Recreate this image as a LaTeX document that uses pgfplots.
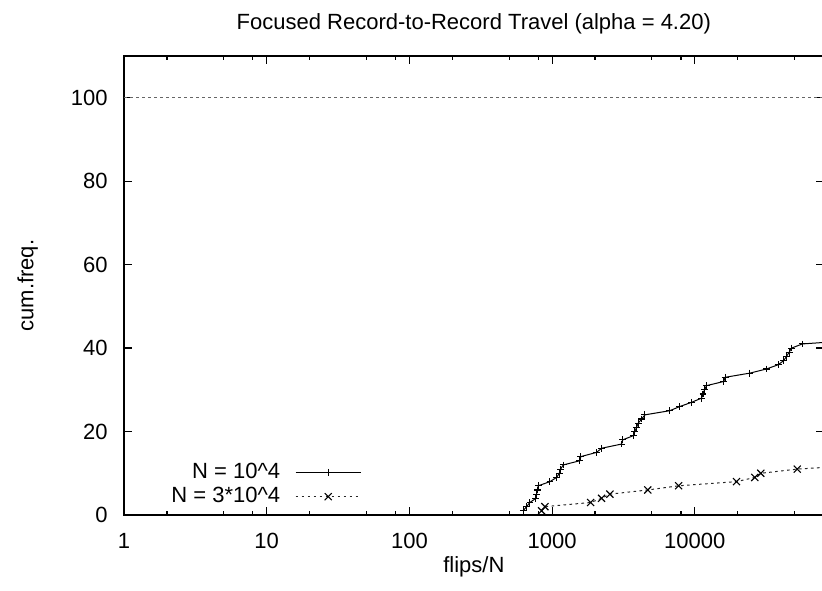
\documentclass[border=0pt]{standalone}
\usepackage{fontspec}
\setmainfont{Liberation Sans}
\usepackage{pgfplots}
\usepackage{pgfplotstable}
\pgfplotsset{compat=1.18}
\pgfplotstableread{
x y
627 1
662 2
699 3
769 4
778 5
787 6
800 7
965 8
1075 9
1122 10
1147 11
1196 12
1564 13
1590 14
2048 15
2220 16
3064 17
3120 18
3700 19
3800 20
3906 21
4010 22
4240 23
4466 24
6680 25
7850 26
9480 27
11140 28
11400 29
11700 30
12080 31
15950 32
16300 33
24270 34
31770 35
38350 36
42000 37
43850 38
45800 39
47530 40
56800 41
150000 42
}\tablesmall
\pgfplotstableread{
x y
844 1
890 2
1860 3
2220 4
2540 5
4680 6
7700 7
19600 8
26300 9
28970 10
52200 11
150000 12
}\tablelarge
\begin{document}
\begin{tikzpicture}[font=\fontsize{11pt}{13pt}\selectfont]
\begin{axis}[
  name=ax,
  scale only axis,
  width=349.85pt, height=229.5pt,
  xmode=log, xmin=1, xmax=80000, ymin=0, ymax=110,
  axis line style={line width=0.65pt},
  tick style={black, line width=0.6pt},
  major tick length=3.9pt, minor tick length=1.9pt,
  tick align=inside,
  xtick={1,10,100,1000,10000},
  xticklabels={1,10,100,1000,10000},
  minor xtick={2,5,8,20,50,80,200,500,800,2000,5000,8000,20000,50000},
  ytick={0,20,40,60,80,100},
  minor ytick={},
  /pgf/number format/assume math mode=true,
  xticklabel style={anchor=base, inner sep=0pt, yshift=-16.5pt},
  yticklabel style={anchor=east, inner sep=0pt, xshift=-8pt},
  title={Focused Record-to-Record Travel (alpha = 4.20)},
  title style={at={(axis description cs:0.5,1.031)}, anchor=base, inner sep=0pt},
  xlabel={flips/N},
  xlabel style={at={(axis description cs:0.5,-0.1242)}, anchor=base, inner sep=0pt},
  ylabel={cum.freq.},
  ylabel style={at={(axis description cs:-0.1294,0.5)}, anchor=base, inner sep=0pt},
  legend plot pos=right,
  legend cell align=right,
  legend style={draw=none, fill=none, at={(axis description cs:0.3396,0.0665)}, anchor=east,
    inner sep=0pt, nodes={inner xsep=0pt, inner ysep=1.1pt, text height=8pt, text depth=2pt},
    /tikz/column sep=7.5pt},
  legend image code/.code={\draw[mark repeat=2,mark phase=2,#1] plot coordinates {(0pt,0pt)(16.25pt,0pt)(32.5pt,0pt)};},
]
\addplot[black, line width=0.5pt, mark=+, mark size=1.7pt, mark options={solid, line width=0.55pt}] table[x=x,y=y] {\tablesmall};
\addlegendentry{N = 10\textasciicircum 4}
\addplot[black!85, line width=0.5pt, dash pattern=on 1.3pt off 1.7pt, mark=x, mark size=2.5pt, mark options={solid, black, line width=0.55pt}] table[x=x,y=y] {\tablelarge};
\addlegendentry{N = 3*10\textasciicircum 4}
\addplot[black!60, line width=0.5pt, dash pattern=on 1.3pt off 1.7pt, forget plot] coordinates {(1,100) (80000,100)};
\end{axis}
\pgfresetboundingbox
\path[use as bounding box] (ax.south west) ++(-62pt,-37.5pt) rectangle ++(411pt,295pt);
\end{tikzpicture}
\end{document}
